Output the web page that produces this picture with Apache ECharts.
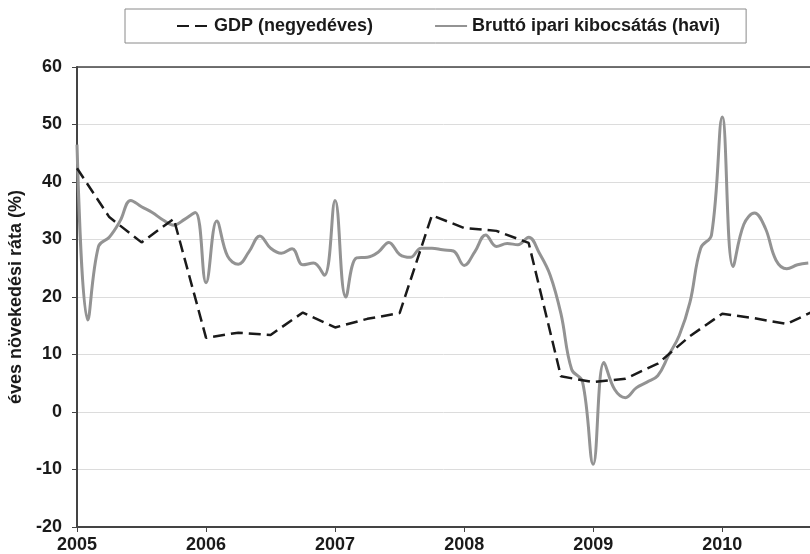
<!DOCTYPE html>
<html>
<head>
<meta charset="utf-8">
<script src="https://cdn.jsdelivr.net/npm/echarts@6/dist/echarts.min.js"></script>
<style>
  html, body { margin: 0; padding: 0; background: #fff; }
  #chart { width: 810px; height: 554px; }
</style>
</head>
<body>
<div id="chart"></div>
<script>
// GDP, negyedéves adatok (2005 I. n.év-től)
var gdpStart = 2005;
var gdpValues = [42.4, 33.9, 29.5, 33.6, 12.9, 13.8, 13.4, 17.3, 14.7, 16.2, 17.2, 34.2,
                 32.0, 31.5, 29.4, 6.2, 5.2, 5.8, 8.4, 13.2, 17.1, 16.3, 15.3, 18.0];

// Bruttó ipari kibocsátás, havi adatok (2005 jan.-tól)
var ipStart = 2005;
var ipValues = [46.5, 16.0, 28.8, 30.4, 33.2, 36.8, 35.7, 34.7, 33.4, 32.5, 33.5, 34.7,
                22.5, 33.2, 27.1, 25.7, 27.9, 30.6, 28.5, 27.6, 28.4, 25.6, 25.9, 23.8,
                36.8, 20.0, 26.8, 26.9, 27.8, 29.5, 27.4, 26.9, 28.5, 28.5, 28.2, 28.0,
                25.5, 27.9, 30.8, 28.8, 29.3, 29.1, 30.4, 27.6, 23.8, 17.1, 7.4, 5.3,
                -9.1, 8.6, 3.9, 2.5, 4.2, 5.2, 6.3, 9.8, 13.3, 19.1, 28.5, 30.8,
                51.3, 25.3, 32.6, 34.6, 32.0, 26.4, 24.9, 25.6, 25.9];

var yearTicks = [2005, 2006, 2007, 2008, 2009, 2010];
var seriesNames = ['GDP (negyedéves)', 'Bruttó ipari kibocsátás (havi)'];
var yAxisName = 'éves növekedési ráta (%)';

var font = "'Liberation Sans', Arial, sans-serif";

var gdpData = gdpValues.map(function (v, i) { return [gdpStart + i / 4, v]; });
var ipData = ipValues.map(function (v, i) { return [ipStart + i / 12, v]; });

var xMin = 2005, xMax = 2010.68;

var chart = echarts.init(document.getElementById('chart'));
chart.setOption({
  animation: false,
  backgroundColor: '#fff',
  textStyle: { fontFamily: font },
  legend: {
    left: 125,
    top: 9,
    padding: [8, 26, 8, 51],
    itemGap: 61,
    itemWidth: 32,
    itemHeight: 14,
    borderColor: '#8a8a8a',
    borderWidth: 1,
    itemStyle: { opacity: 0 },
    textStyle: { fontFamily: font, fontSize: 18, fontWeight: 'bold', color: '#1a1a1a' },
    data: seriesNames
  },
  grid: { left: 77, right: 0, top: 67, bottom: 27, outerBoundsMode: 'none' },
  xAxis: [{
    type: 'value',
    min: xMin,
    max: xMax,
    interval: 1,
    axisLine: { onZero: false, lineStyle: { color: '#444', width: 2 } },
    axisTick: { show: true, length: 5, lineStyle: { color: '#444', width: 1 } },
    splitLine: { show: false },
    axisLabel: {
      margin: 9,
      fontFamily: font, fontSize: 18, fontWeight: 'bold', color: '#1a1a1a',
      showMaxLabel: false,
      formatter: function (v) { return yearTicks.indexOf(v) >= 0 ? String(v) : ''; }
    }
  }, {
    type: 'value',
    position: 'top',
    min: xMin,
    max: xMax,
    axisLine: { onZero: false, lineStyle: { color: '#444', width: 1.5 } },
    axisTick: { show: false },
    axisLabel: { show: false },
    splitLine: { show: false }
  }],
  yAxis: {
    type: 'value',
    min: -20,
    max: 60,
    interval: 10,
    name: yAxisName,
    nameLocation: 'middle',
    nameGap: 52,
    nameTextStyle: { fontFamily: font, fontSize: 18, fontWeight: 'bold', color: '#1a1a1a' },
    axisLine: { show: true, onZero: false, lineStyle: { color: '#444', width: 2 } },
    axisTick: { show: true, length: 5, lineStyle: { color: '#444' } },
    axisLabel: { margin: 15, fontFamily: font, fontSize: 18, fontWeight: 'bold', color: '#1a1a1a' },
    splitLine: { lineStyle: { color: '#dcdcdc', width: 1 } }
  },
  series: [{
    name: seriesNames[0],
    type: 'line',
    data: gdpData,
    symbol: 'none',
    z: 3,
    lineStyle: { color: '#1a1a1a', width: 2.5, type: [12, 6] },
    itemStyle: { color: '#1a1a1a' }
  }, {
    name: seriesNames[1],
    type: 'line',
    data: ipData,
    symbol: 'none',
    smooth: 0.4,
    z: 2,
    lineStyle: { color: '#939393', width: 3 },
    itemStyle: { color: '#939393' }
  }]
});
</script>
</body>
</html>
